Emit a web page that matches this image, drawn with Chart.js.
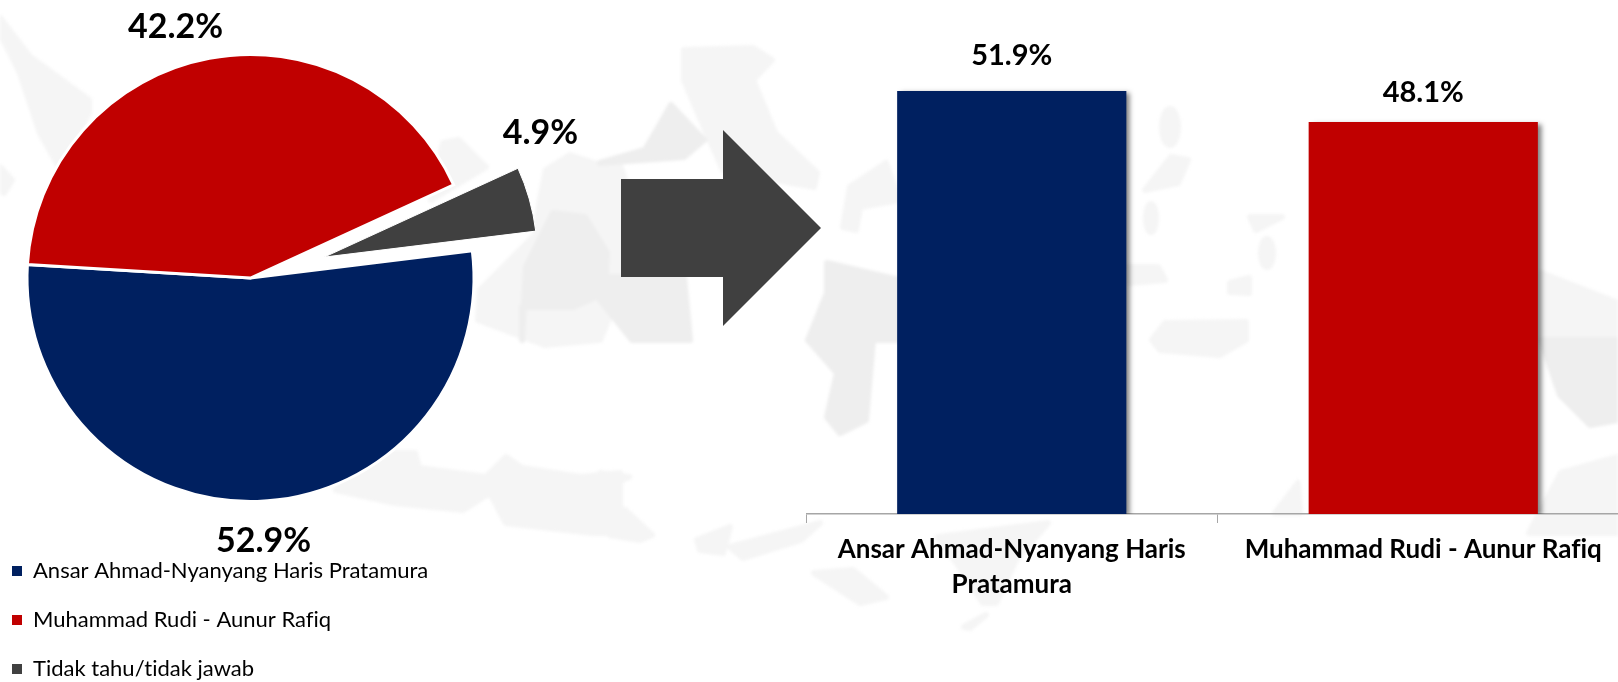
<!DOCTYPE html>
<html>
<head>
<meta charset="utf-8">
<style>
html,body{margin:0;padding:0;width:1618px;height:682px;overflow:hidden;background:#fff}
#wrap{position:relative;width:1618px;height:682px;overflow:hidden}
svg,canvas{position:absolute}
#bg{left:0;top:0;filter:blur(1.5px)}
#pie{left:-200px;top:-120px}
#bar{left:806px;top:25px}
</style>
<script src="https://cdn.jsdelivr.net/npm/chart.js@4/dist/chart.umd.min.js"></script>
</head>
<body>
<div id="wrap">
<svg id="bg" width="1618" height="682" viewBox="0 0 1618 682">
 <g fill="#f5f5f5" stroke="#f5f5f5" stroke-width="6" stroke-linejoin="round">
  <polygon points="0,33 20,73 40,133 59,167 89,113 89,100 30,57 0,18"/>
  <polygon points="0,167 12,180 4,193 0,190"/>
  <polygon points="443,143 459,140 486,167 431,200"/>
  <polygon points="546,170 570,155 600,165 620,165 625,180 625,280 600,340 545,345 478,320 480,290 535,235 540,200"/>
  <polygon points="684,50 753,48 772,60 753,80 775,133 817,173 814,187 723,170 704,127 684,80"/>
  <polygon points="843,227 850,187 886,163 899,200 860,207 856,230"/>
  <polygon points="1145,190 1171,157 1188,160 1178,183"/>
  <polygon points="1250,217 1282,217 1256,230"/>
  <polygon points="1230,283 1249,278 1249,293 1230,292"/>
  <polygon points="1127,267 1158,267 1165,280 1129,283"/>
  <polygon points="1152,340 1165,323 1246,322 1246,340 1220,355 1160,350"/>
  <polygon points="336,490 376,453 415,453 419,468 486,477 506,457 522,468 581,477 620,473 620,533 593,533 506,523 490,493 463,510 395,503"/>
  <polygon points="600,473 629,477 600,490"/>
  <polygon points="600,505 625,510 652,535 640,540 610,535"/>
  <polygon points="697,540 730,527 723,553 700,550"/>
  <polygon points="730,547 820,523 801,540 743,558"/>
  <polygon points="814,573 853,570 886,597 860,603"/>
  <polygon points="938,537 1048,523 1016,560 996,603 983,603 950,553"/>
  <polygon points="964,627 986,615 970,628"/>
  <polygon points="1275,513 1298,483 1300,513"/>
  <polygon points="1529,533 1561,473 1618,457 1618,533"/>
  <polygon points="1541,273 1618,303 1618,340 1541,340"/>
  <ellipse cx="1170" cy="127" rx="8" ry="18"/>
  <ellipse cx="1151" cy="218" rx="5" ry="14"/>
  <ellipse cx="1267" cy="253" rx="6" ry="14"/>
 </g>
 <g fill="#eeeeee" stroke="#eeeeee" stroke-width="6" stroke-linejoin="round">
  <polygon points="522,340 526,267 553,213 585,217 607,253 605,293 573,307 522,307"/>
  <polygon points="600,163 684,157 704,140 671,105 655,133 645,150"/>
  <polygon points="600,277 684,277 690,340 632,340 600,300"/>
  <polygon points="827,263 899,280 899,340 808,340 827,293"/>
  <polygon points="808,340 873,340 866,420 840,433 827,417 837,373"/>
  <polygon points="1541,340 1618,340 1618,420 1590,425 1560,395"/>
 </g>
</svg>
<svg id="arrow" style="left:0;top:0" width="1618" height="682"><polygon fill="#404040" points="621,179 723,179 723,130 821,228 723,326 723,277 621,277"/></svg>
<canvas id="pie" width="901" height="802"></canvas>
<canvas id="bar" width="823" height="657"></canvas>
</div>
<script>
const pieLabels = ["Ansar Ahmad-Nyanyang Haris Pratamura", "Muhammad Rudi - Aunur Rafiq", "Tidak tahu/tidak jawab"];
const pieValues = [52.9, 42.2, 4.9];
const pieColors = ["#002060", "#C00000", "#404040"];
const pieOffsets = [0, 0, 307];
const pieBorders = [3, 3, 1];
const pieLabelShift = [[13, 263], [-75, -251], [290, -145]];

const barLabels = [["Ansar Ahmad-Nyanyang Haris", "Pratamura"], ["Muhammad Rudi - Aunur Rafiq"]];
const barValues = [51.9, 48.1];
const barColors = ["#002060", "#C00000"];
const barLabelGap = [35, 29];

const FONT = "Lato, 'Open Sans', sans-serif";

const noLigatures = {
  id: "noLigatures",
  beforeDraw(chart) { chart.ctx.textRendering = "optimizeSpeed"; }
};

const pieExtras = {
  id: "pieExtras",
  afterDatasetsUpdate(chart) {
    // Chart.js narrows and enlarges an offset slice; restore its true angular span.
    const arc = chart.getDatasetMeta(0).data[2];
    arc.outerRadius = 159.5;
    const fix = 1 - Math.sin(Math.min(Math.PI, arc.circumference));
    const radial = pieOffsets[2] / 4 * fix;
    const widen = radial / (Math.PI * (arc.outerRadius + radial));
    arc.startAngle -= widen / 2;
    arc.endAngle += widen / 2;
  },
  afterLayout(chart) {
    const lg = chart.legend;
    const w = lg.width, h = lg.height;
    lg.left = 185; lg.top = 653;
    lg.right = lg.left + w; lg.bottom = lg.top + h;
  },
  afterDraw(chart) {
    const c = chart.ctx, a = chart.getDatasetMeta(0).data[0];
    c.save();
    c.font = "bold 34px " + FONT;
    c.fillStyle = "#000";
    c.textAlign = "center";
    c.textBaseline = "middle";
    pieValues.forEach((v, i) => {
      c.fillText(v.toFixed(1) + "%", a.x + pieLabelShift[i][0], a.y + pieLabelShift[i][1]);
    });
    c.restore();
  }
};

new Chart(document.getElementById("pie"), {
  type: "pie",
  plugins: [noLigatures, pieExtras],
  data: {
    labels: pieLabels,
    datasets: [{
      data: pieValues,
      backgroundColor: pieColors,
      borderColor: "#ffffff",
      borderWidth: pieBorders,
      borderJoinStyle: "miter",
      offset: pieOffsets,
      hoverOffset: 0
    }]
  },
  options: {
    responsive: false,
    animation: false,
    rotation: 83,
    layout: { padding: { top: 19.5, bottom: 25.5 } },
    plugins: {
      tooltip: { enabled: false },
      legend: {
        position: "chartArea",
        align: "start",
        labels: {
          boxWidth: 10, boxHeight: 10, padding: 27,
          color: "#262626",
          font: { family: FONT, size: 22 },
          generateLabels: ch => ch.data.labels.map((t, i) => ({
            text: t, fillStyle: pieColors[i], strokeStyle: pieColors[i], lineWidth: 0, index: i, hidden: false
          }))
        }
      }
    }
  }
});

const barExtras = {
  id: "barExtras",
  beforeDatasetsDraw(chart) {
    const c = chart.ctx;
    c.save();
    c.shadowColor = "rgba(0,0,0,0.5)";
    c.shadowBlur = 5;
    c.shadowOffsetX = 4;
    c.shadowOffsetY = 2;
  },
  afterDatasetsDraw(chart) {
    const c = chart.ctx;
    c.restore();
    c.save();
    c.font = "bold 29px " + FONT;
    c.fillStyle = "#000";
    c.textAlign = "center";
    c.textBaseline = "middle";
    chart.getDatasetMeta(0).data.forEach((el, i) => {
      c.fillText(barValues[i].toFixed(1) + "%", el.x, el.y - barLabelGap[i]);
    });
    c.restore();
  }
};

new Chart(document.getElementById("bar"), {
  type: "bar",
  plugins: [noLigatures, barExtras],
  data: {
    labels: barLabels,
    datasets: [{
      data: barValues,
      backgroundColor: barColors,
      barPercentage: 0.557,
      categoryPercentage: 1
    }]
  },
  options: {
    responsive: false,
    animation: false,
    layout: { padding: 0 },
    plugins: { legend: { display: false }, tooltip: { enabled: false } },
    scales: {
      x: {
        afterFit: s => { s.height = 168; },
        border: { display: true, color: "#a6a6a6", width: 1.5 },
        grid: { display: true, drawOnChartArea: false, drawTicks: true, color: "#a6a6a6", tickLength: 9, lineWidth: 1, offset: true },
        ticks: {
          color: "#000", padding: 9, maxRotation: 0, autoSkip: false,
          font: { family: FONT, size: 26, weight: "bold", lineHeight: 1.35 }
        }
      },
      y: { display: false, min: 0, max: 60 }
    }
  }
});
</script>
</body>
</html>
